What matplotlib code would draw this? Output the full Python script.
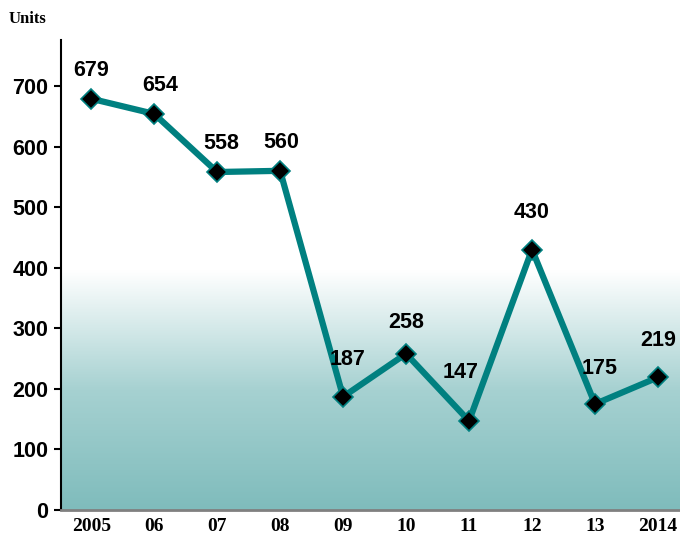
import numpy as np
import matplotlib
matplotlib.use("Agg")
import matplotlib.pyplot as plt
from matplotlib.colors import LinearSegmentedColormap

years = ["2005", "06", "07", "08", "09", "10", "11", "12", "13", "2014"]
units = [679, 654, 558, 560, 187, 258, 147, 430, 175, 219]
yticks = [0, 100, 200, 300, 400, 500, 600, 700]

# label offsets in points (dx, dy) relative to each marker
offsets = [(0, 13), (4, 13), (3, 13), (1, 13), (3, 19), (0, 15), (-6, 27), (0, 19), (3, 18), (0, 19)]

num_font = dict(family="Liberation Sans", fontweight="bold", fontsize=15.5)
teal = "#008080"

fig = plt.figure(figsize=(6.8, 5.44), dpi=100)
ax = fig.add_axes([0.0897, 0.0625, 0.9103, 0.864])

x = np.arange(len(years))
ax.set_xlim(-0.48, 9.35)
ax.set_ylim(0, 776)

# background gradient: teal at bottom fading to white around 395
cmap = LinearSegmentedColormap.from_list("bg", ["#7fbcbc", "#a6d1d1", "#ffffff"])
grad = np.linspace(0, 1, 256).reshape(-1, 1)
ax.imshow(grad, aspect="auto", cmap=cmap, origin="lower",
          extent=[-0.48, 9.35, 0, 395], zorder=0)

ax.plot(x, units, color=teal, lw=4.5, zorder=2, solid_joinstyle="miter")
ax.plot(x, units, ls="none", marker="D", ms=10, mfc="black", mec=teal, mew=1.2, zorder=3)

for xi, v, (dx, dy) in zip(x, units, offsets):
    ax.annotate(str(v), (xi, v), xytext=(dx, dy), textcoords="offset points",
                ha="center", va="bottom", zorder=4, **num_font)

ax.set_xticks(x)
ax.set_xticklabels(years, family="Liberation Serif", fontweight="bold", fontsize=14)
ax.set_yticks(yticks)
ax.set_yticklabels([str(t) for t in yticks], **num_font)
ax.tick_params(axis="x", length=0, pad=6)
ax.tick_params(axis="y", length=5, width=1.5, direction="out", pad=4)

for s in ["top", "right"]:
    ax.spines[s].set_visible(False)
ax.spines["left"].set_linewidth(1.5)
ax.spines["bottom"].set_color("#808080")
ax.spines["bottom"].set_linewidth(2)

fig.text(0.012, 0.965, "Units", family="Liberation Serif", fontweight="bold", fontsize=12, va="center")

fig.savefig("out.png", dpi=100)
